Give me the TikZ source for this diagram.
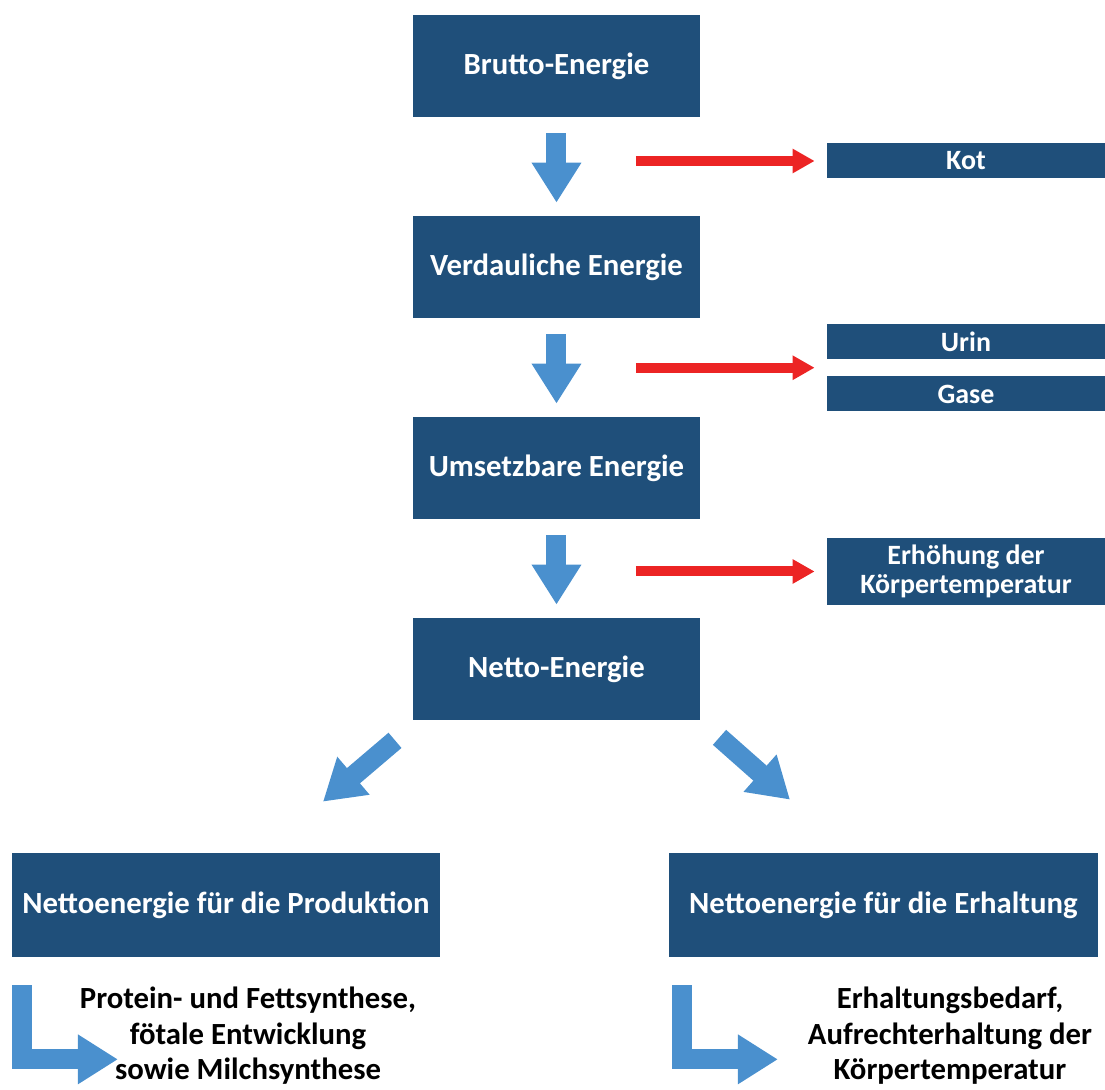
\documentclass[tikz,border=0pt]{standalone}
\usepackage{fontspec}
\setmainfont{Carlito}
\usepackage{tikz}
\usetikzlibrary{positioning,arrows.meta,calc}
\definecolor{boxblue}{RGB}{31,79,122}
\definecolor{arrowblue}{RGB}{74,144,206}
\definecolor{lossred}{RGB}{236,36,36}

\begin{document}
\begin{tikzpicture}[node distance={40.2mm},
  main/.style = {fill=boxblue, text=white, font=\bfseries\fontsize{17.5}{21}\selectfont, minimum width=57.4mm, minimum height=20.4mm, inner sep=0pt},
  loss/.style = {fill=boxblue, text=white, font=\bfseries\fontsize{15.9}{16.8}\selectfont, minimum width=55.6mm, minimum height=7mm, inner sep=0pt, align=center},
  endbox/.style = {main, minimum width=85.7mm, minimum height=20.8mm},
  desc/.style = {font=\bfseries\fontsize{17.5}{20.2}\selectfont, align=center, inner sep=0pt},
  bluearrow/.style = {line width=4mm, arrowblue, -{Triangle[width=9.4mm,length=8mm]}},
  redarrow/.style = {line width=2mm, lossred, -{Triangle[width=4.6mm,length=4.4mm]}}]
\useasboundingbox (-11.13,1.32) rectangle (10.97,-20.48);
\node[main] (brutto) {Brutto-Energie};
\node[main] (verd) [below of=brutto] {Verdauliche Energie};
\node[main] (umsetz) [below of=verd] {Umsetzbare Energie};
\node[main] (netto) [below of=umsetz] {Netto-Energie};
\node[loss] (kot) at (8.19,-1.9) {Kot};
\node[loss] (urin) at (8.19,-5.51) {Urin};
\node[loss] (gase) at (8.19,-6.56) {Gase};
\node[loss, minimum height=13.4mm] (waerme) at (8.19,-10.11) {Erhöhung der\\Körpertemperatur};
\node[endbox] (prod) at (-6.61,-16.78) {Nettoenergie für die Produktion};
\node[endbox] (erh) at (6.54,-16.78) {Nettoenergie für die Erhaltung};
\node[desc] (prodtxt) [below of=prod, node distance=16.6mm, xshift=4.4mm, yshift=-9.6mm] {Protein- und Fettsynthese,\\fötale Entwicklung\\sowie Milchsynthese};
\node[desc] (erhtxt) [below of=erh, node distance=16.6mm, xshift=13.3mm, yshift=-9.6mm] {Erhaltungsbedarf,\\Aufrechterhaltung der\\Körpertemperatur};
\coordinate (ug) at ($(urin.west)!0.5!(gase.west)$);
% energy flow
\draw[bluearrow, shorten <=3.2mm, shorten >=2.6mm] (brutto) -- (verd);
\draw[bluearrow, shorten <=3.2mm, shorten >=2.6mm] (verd) -- (umsetz);
\draw[bluearrow, shorten <=3.2mm, shorten >=2.6mm] (umsetz) -- (netto);
\draw[bluearrow] ([xshift=-3.23cm,yshift=-0.4cm]netto.south) -- ([xshift=1.94cm,yshift=1.02cm]prod.north);
\draw[bluearrow] ([xshift=3.26cm,yshift=-0.34cm]netto.south) -- ([xshift=-1.87cm,yshift=1.06cm]erh.north);
\draw[bluearrow, line join=miter] ([xshift=0.22cm,yshift=-0.56cm]prod.south west) |- ([xshift=2.13cm,yshift=-2.04cm]prod.south west);
\draw[bluearrow, line join=miter] ([xshift=0.27cm,yshift=-0.56cm]erh.south west) |- ([xshift=2.18cm,yshift=-2.04cm]erh.south west);
% losses
\draw[redarrow] ($(brutto.center |- kot.west)+(1.59,0)$) -- ([xshift=-2.4mm]kot.west);
\draw[redarrow] ($(verd.center |- ug)+(1.59,0)$) -- ([xshift=-2.4mm]ug);
\draw[redarrow] ($(umsetz.center |- waerme.west)+(1.59,0)$) -- ([xshift=-2.4mm]waerme.west);
\end{tikzpicture}
\end{document}
